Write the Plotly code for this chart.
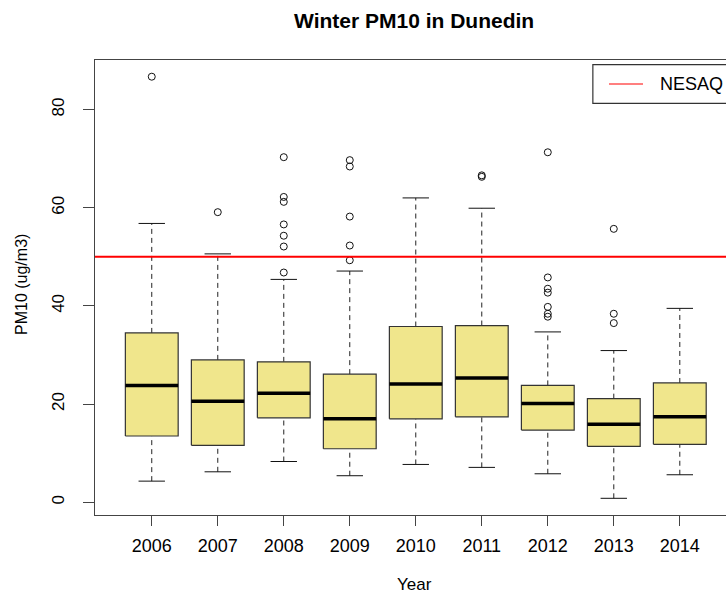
import plotly.graph_objects as go

# Winter PM10 box statistics per year (ug/m3)
years = ["2006", "2007", "2008", "2009", "2010", "2011", "2012", "2013", "2014"]
lower_whisker = [4.3, 6.2, 8.3, 5.4, 7.7, 7.1, 5.8, 0.8, 5.6]
q1 = [13.5, 11.6, 17.2, 10.9, 17.0, 17.4, 14.7, 11.4, 11.8]
median = [23.8, 20.6, 22.2, 17.0, 24.1, 25.3, 20.1, 15.9, 17.4]
q3 = [34.5, 29.0, 28.6, 26.1, 35.8, 36.0, 23.8, 21.1, 24.3]
upper_whisker = [56.8, 50.6, 45.4, 47.1, 62.0, 59.9, 34.7, 30.9, 39.5]
outliers = [
    [86.7],
    [59.1],
    [70.3, 62.2, 61.2, 56.6, 54.3, 52.1, 46.8],
    [69.7, 68.4, 58.2, 52.3, 49.3],
    [],
    [66.3, 66.6],
    [71.3, 45.8, 43.5, 42.7, 39.8, 38.4, 37.8],
    [55.7, 38.4, 36.5],
    [],
]
nesaq = 50  # National Environmental Standard for Air Quality

FONT = "Liberation Sans, Arial, Helvetica, sans-serif"
BOX_W = 0.8      # box width in category units
CAP_W = 0.4      # whisker cap width
pos = list(range(1, len(years) + 1))

fig = go.Figure()

# NESAQ threshold line
fig.add_shape(type="line", xref="paper", x0=0, x1=1, yref="y", y0=nesaq, y1=nesaq,
              line=dict(color="#FF0000", width=2), layer="above")

# whiskers (dashed)
wx, wy = [], []
for p, lo, a, b, hi in zip(pos, lower_whisker, q1, q3, upper_whisker):
    wx += [p, p, None, p, p, None]
    wy += [b, hi, None, lo, a, None]
fig.add_trace(go.Scatter(x=wx, y=wy, mode="lines", hoverinfo="skip",
                         line=dict(color="#222222", width=1, dash="5px,4px"),
                         showlegend=False))

# whisker caps
cx, cy = [], []
for p, lo, hi in zip(pos, lower_whisker, upper_whisker):
    cx += [p - CAP_W / 2, p + CAP_W / 2, None, p - CAP_W / 2, p + CAP_W / 2, None]
    cy += [hi, hi, None, lo, lo, None]
fig.add_trace(go.Scatter(x=cx, y=cy, mode="lines", hoverinfo="skip",
                         line=dict(color="#111111", width=1), showlegend=False))

# boxes
bx, by = [], []
for p, a, b in zip(pos, q1, q3):
    l, r = p - BOX_W / 2, p + BOX_W / 2
    bx += [l, r, r, l, l, None]
    by += [a, a, b, b, a, None]
fig.add_trace(go.Scatter(x=bx, y=by, mode="lines", fill="toself",
                         fillcolor="#F0E68C", hoverinfo="skip",
                         line=dict(color="#333333", width=1.2), showlegend=False))

# medians
mx, my = [], []
for p, m in zip(pos, median):
    mx += [p - BOX_W / 2, p + BOX_W / 2, None]
    my += [m, m, None]
fig.add_trace(go.Scatter(x=mx, y=my, mode="lines", hoverinfo="skip",
                         line=dict(color="#000000", width=3.5), showlegend=False))

# outliers
ox, oy = [], []
for p, vals in zip(pos, outliers):
    ox += [p] * len(vals)
    oy += vals
fig.add_trace(go.Scatter(x=ox, y=oy, mode="markers", hoverinfo="skip",
                         marker=dict(symbol="circle-open", size=7, color="#111111",
                                     line=dict(color="#111111", width=1)),
                         showlegend=False))

# legend box
fig.add_shape(type="rect", xref="paper", yref="paper", x0=0.789, x1=1.08,
              y0=0.9048, y1=0.9897, line=dict(color="#333333", width=1.2),
              fillcolor="white", layer="above")
fig.add_shape(type="line", xref="paper", yref="paper", x0=0.8146, x1=0.8685,
              y0=0.9473, y1=0.9473, line=dict(color="#FF0000", width=1.2),
              layer="above")
fig.add_annotation(text="NESAQ", xref="paper", yref="paper", x=0.892, y=0.9473,
                   xanchor="left", yanchor="middle", showarrow=False,
                   font=dict(family=FONT, size=18, color="#000000"))

# titles
fig.add_annotation(text="<b>Winter PM10 in Dunedin</b>", xref="paper", yref="paper",
                   x=0.5055, y=(515 - 20) / 455, xanchor="center", yanchor="middle",
                   showarrow=False, font=dict(family=FONT, size=21, color="#000000"))
fig.add_annotation(text="Year", xref="paper", yref="paper",
                   x=0.507, y=(515 - 584) / 455, xanchor="center", yanchor="middle",
                   showarrow=False, font=dict(family=FONT, size=17, color="#000000"))
fig.add_annotation(text="PM10 (ug/m3)", xref="paper", yref="paper",
                   x=(21 - 95) / 631, y=(515 - 285) / 455, xanchor="center",
                   yanchor="middle", textangle=-90, showarrow=False,
                   font=dict(family=FONT, size=16, color="#000000"))

fig.update_layout(
    width=726, height=597,
    margin=dict(l=95, r=0, t=60, b=82),
    paper_bgcolor="white", plot_bgcolor="white",
    font=dict(family=FONT, size=17, color="#000000"),
    showlegend=False,
)
fig.update_xaxes(range=[0.14, 9.70], tickvals=pos, ticktext=years,
                 showgrid=False, zeroline=False, showline=True, mirror=True,
                 linecolor="#444444", linewidth=1.2, ticks="outside", ticklen=10,
                 tickcolor="#444444", tickwidth=1.2, ticklabelstandoff=4,
                 tickfont=dict(family=FONT, size=18))
fig.update_yaxes(range=[-2.6, 90.1], tickvals=[0, 20, 40, 60, 80],
                 showgrid=False, zeroline=False, showline=True,
                 linecolor="#444444", linewidth=1.2, ticks="outside", ticklen=11,
                 tickcolor="#444444", tickwidth=1.2, tickangle=-90,
                 ticklabelstandoff=12, tickfont=dict(family=FONT, size=17))

fig.write_html("out.html")
